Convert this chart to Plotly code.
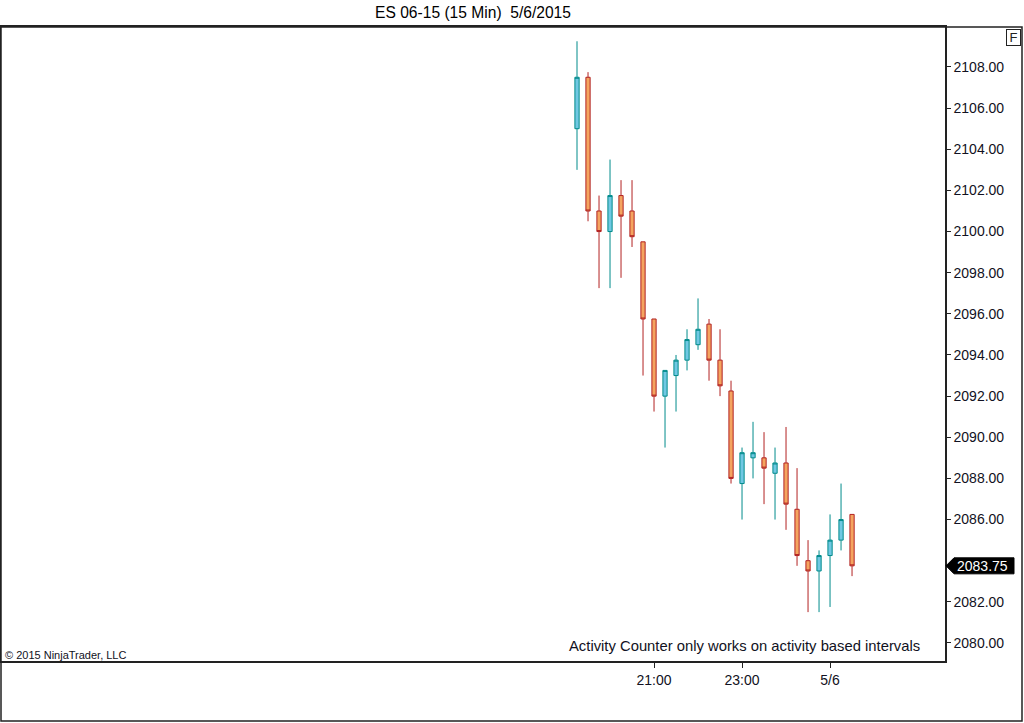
import plotly.graph_objects as go

# ES 06-15 15 minute bars
bar_index = list(range(26))
opens = [2105.00, 2107.50, 2101.00, 2100.00, 2101.75, 2101.00, 2099.50, 2095.75,
         2092.00, 2093.00, 2093.75, 2094.50, 2095.50, 2093.75, 2092.25, 2087.75,
         2089.00, 2089.00, 2088.25, 2088.75, 2086.50, 2084.00, 2083.50, 2084.25,
         2085.00, 2086.25]
highs = [2109.25, 2107.75, 2101.75, 2103.50, 2102.50, 2102.50, 2099.50, 2095.75,
         2093.25, 2094.00, 2095.25, 2096.75, 2095.75, 2095.25, 2092.75, 2089.50,
         2090.75, 2090.25, 2089.50, 2090.50, 2088.50, 2085.00, 2084.50, 2086.25,
         2087.75, 2086.25]
lows = [2103.00, 2100.50, 2097.25, 2097.25, 2097.75, 2099.25, 2093.00, 2091.25,
        2089.50, 2091.25, 2093.25, 2094.25, 2092.75, 2092.00, 2087.75, 2086.00,
        2088.00, 2086.75, 2086.00, 2085.50, 2083.75, 2081.50, 2081.50, 2081.75,
        2084.50, 2083.25]
closes = [2107.50, 2101.00, 2100.00, 2101.75, 2100.75, 2099.75, 2095.75, 2092.00,
          2093.25, 2093.75, 2094.75, 2095.25, 2093.75, 2092.50, 2088.00, 2089.25,
          2089.25, 2088.50, 2088.75, 2086.75, 2084.25, 2083.50, 2084.25, 2085.00,
          2086.00, 2083.75]

time_tick_pos = [7, 15, 23]
time_tick_text = ["21:00", "23:00", "5/6"]
# 2084.00 sits under the last-price tag, so its label is not shown
price_ticks = [2080, 2082, 2086, 2088, 2090, 2092, 2094, 2096, 2098,
               2100, 2102, 2104, 2106, 2108]

last_close = closes[-1]

W, H = 1024, 723
ml, mr, mt, mb = 1, 79, 27, 62
pw = W - ml - mr
ph = H - mt - mb
font_main = "Liberation Sans, Arial, sans-serif"

fig = go.Figure()
fig.add_trace(go.Candlestick(
    x=bar_index, open=opens, high=highs, low=lows, close=closes,
    increasing=dict(line=dict(color="#008B8B", width=1), fillcolor="#70C8E2"),
    decreasing=dict(line=dict(color="#B22222", width=1), fillcolor="#F4A460"),
    whiskerwidth=0,
    showlegend=False,
))

fig.update_layout(
    width=W, height=H,
    margin=dict(l=ml, r=mr, t=mt, b=mb, autoexpand=False),
    paper_bgcolor="white", plot_bgcolor="white",
    font=dict(family=font_main, size=14, color="#111122"),
    boxgap=0.45,
    title=dict(text="ES 06-15 (15 Min)  5/6/2015", x=0.5, xref="paper",
               y=1 - 13 / H, yanchor="middle",
               font=dict(size=15.6, color="#000000", family=font_main)),
    xaxis=dict(
        range=[-52.36, 33.45], rangeslider=dict(visible=False),
        tickmode="array", tickvals=time_tick_pos, ticktext=time_tick_text,
        ticks="outside", ticklen=5, tickcolor="#222222",
        showgrid=False, zeroline=False,
        showline=True, linecolor="#222222", linewidth=1.5, mirror=True,
        fixedrange=True,
    ),
    yaxis=dict(
        side="right", range=[2079.124, 2109.944],
        tickmode="array", tickvals=price_ticks,
        tickformat=".2f", ticks="outside", ticklen=4, tickcolor="#222222",
        ticklabelstandoff=0,
        showgrid=False, zeroline=False,
        showline=True, linecolor="#222222", linewidth=1.5, mirror=True,
        fixedrange=True,
    ),
)

# outer frame around plot + axis area
fig.add_shape(type="rect", xref="paper", yref="paper",
              x0=0, x1=(W - 2 - ml) / pw, y0=-(mb - 2) / ph, y1=1,
              line=dict(color="#222222", width=1.5), fillcolor="rgba(0,0,0,0)")

# last price marker
fig.add_shape(type="path", xref="paper", yref="y", xanchor=1, yanchor=last_close,
              xsizemode="pixel", ysizemode="pixel",
              path="M 1,0 L 9,8 L 69,8 L 69,-8 L 9,-8 Z",
              fillcolor="#000000", line=dict(color="#000000", width=1))
fig.add_annotation(xref="paper", yref="y", x=1, y=last_close, xanchor="left",
                   xshift=10, showarrow=False, text=f"{last_close:.2f}",
                   font=dict(size=14, color="white", family=font_main))

# "F" box top right
fig.add_annotation(xref="paper", yref="paper", x=(W - 11 - ml) / pw, y=1 - 10 / ph,
                   xanchor="center", yanchor="middle", showarrow=False, text="F",
                   font=dict(size=13, color="#222222", family=font_main),
                   bordercolor="#222222", borderwidth=1, borderpad=0,
                   bgcolor="white", width=13, height=15)

fig.add_annotation(xref="paper", yref="paper", x=(922 - ml) / pw, y=(H - mb - 646) / ph,
                   xanchor="right", yanchor="middle", showarrow=False,
                   text="Activity Counter only works on activity based intervals",
                   font=dict(size=14.8, color="#111122", family=font_main))
fig.add_annotation(xref="paper", yref="paper", x=(3 - ml) / pw, y=(H - mb - 655) / ph,
                   xanchor="left", yanchor="middle", showarrow=False,
                   text="© 2015 NinjaTrader, LLC",
                   font=dict(size=11, color="#111122", family=font_main))

# page body margin would shift the fixed-size figure
fig.write_html("out.html", config={"displayModeBar": False},
               post_script="document.body.style.margin='0';")
